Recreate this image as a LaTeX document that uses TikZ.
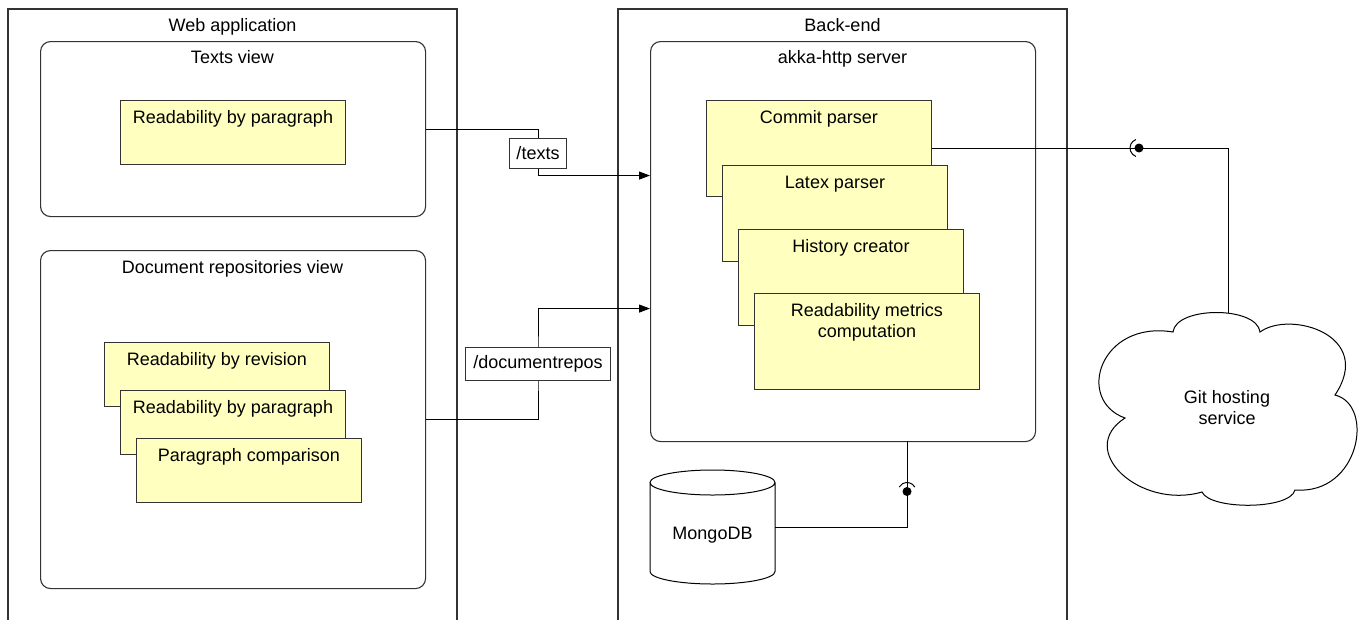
\documentclass[tikz,border=0pt]{standalone}
\usepackage{fontspec}
\setmainfont{Liberation Sans}
\usetikzlibrary{arrows.meta,calc}
\definecolor{note}{HTML}{FFFFC0}
\definecolor{ln}{HTML}{333333}
\begin{document}
\begin{tikzpicture}[x=1pt,y=-1pt, font=\fontsize{18}{21}\selectfont,
 container/.style={draw=ln, line width=1.1pt},
 view/.style={draw=ln, line width=1.1pt, rounded corners=10pt, anchor=north west, inner sep=0},
 ybox/.style={draw=ln, fill=note, line width=1pt, anchor=north west, inner sep=0, minimum width=225pt},
 ylabel/.style={anchor=north, yshift=-10.5pt, align=center, inner sep=0},
 title/.style={anchor=base, inner sep=0},
 tag/.style={draw=ln, fill=white, line width=1pt, inner sep=2pt},
 wire/.style={draw=black, line width=1pt},
 arr/.style={wire, -{Triangle[length=11pt,width=8pt]}},
]
\useasboundingbox (0,0) rectangle (1360,619);
\fill[white] (0,0) rectangle (1360,619);

% outer containers (open at the bottom)
\draw[container] (8,640) -- (8,9) -- (457,9) -- (457,640);
\draw[container] (618,640) -- (618,9) -- (1067,9) -- (1067,640);
\node[title] (wa) at (232.5,31.5) {Web application};
\node[title] (be) at (842.5,31.5) {Back-end};

% views
\node[view, minimum width=385pt, minimum height=175pt] (tv) at (40,41) {};
\node[title] (tvt) at (232.5,63.5) {Texts view};
\node[ybox, minimum height=64pt, label={[ylabel]north:Readability by paragraph}] (rp1) at (120,100) {};

\node[view, minimum width=385pt, minimum height=338pt] (drv) at (40,250) {};
\node[title] (drt) at (232.5,273.5) {Document repositories view};
\node[ybox, minimum height=64pt, label={[ylabel]north:Readability by revision}] (rrev) at (104,342) {};
\node[ybox, minimum height=64pt, label={[ylabel]north:Readability by paragraph}] (rpar) at (120,390) {};
\node[ybox, minimum height=64pt, label={[ylabel]north:Paragraph comparison}] (pcmp) at (136,438) {};

% akka server
\node[view, minimum width=385pt, minimum height=400pt] (akka) at (650,41) {};
\node[title] (akt) at (842.5,63.5) {akka-http server};
\node[ybox, minimum height=96pt, label={[ylabel]north:Commit parser}] (cp) at (706,100) {};
\node[ybox, minimum height=96pt, label={[ylabel]north:Latex parser}] (lp) at (722,165) {};
\node[ybox, minimum height=96pt, label={[ylabel]north:History creator}] (hc) at (738,229) {};
\node[ybox, minimum height=96pt, label={[ylabel]north:{Readability metrics\\computation}}] (rm) at (754,293) {};

% MongoDB cylinder
\node[minimum width=125pt, minimum height=114pt, inner sep=0] (mdb) at (712.5,527) {};
\draw[draw=black, line width=1pt, fill=white]
  (650,482.5) -- (650,571.5)
  arc[start angle=180, end angle=360, x radius=62.5pt, y radius=12.5pt]
  -- (775,482.5)
  arc[start angle=0, end angle=180, x radius=62.5pt, y radius=12.5pt]
  arc[start angle=180, end angle=360, x radius=62.5pt, y radius=12.5pt];
\node[inner sep=0] (mdbt) at (712.5,535) {MongoDB};

% cloud
\draw[draw=black, line width=1pt, fill=white]
  (1173,332) .. controls (1176,306) and (1257,306) .. (1260,332)
  .. controls (1290,310) and (1375,335) .. (1335,395)
  .. controls (1375,405) and (1360,495) .. (1295,490)
  .. controls (1290,510) and (1210,510) .. (1202,492)
  .. controls (1140,510) and (1075,450) .. (1125,418)
  .. controls (1075,400) and (1100,320) .. (1173,332) -- cycle;
\node[align=center, inner sep=0] (git) at (1227,408) {Git hosting\\service};
\coordinate (gtop) at (1228,313);

% connectors
\coordinate (tpos) at (538,153);
\draw[arr] (tv.east) -| (tpos) |- ([yshift=66pt]akka.west);
\node[tag, minimum width=57pt, minimum height=30pt] (tl) at (tpos) {/texts};

\coordinate (dpos) at (538,363.5);
\draw[arr] (drv.east) -| (dpos) |- ([yshift=-67pt]akka.west);
\node[tag, minimum width=145pt, minimum height=33pt] (dl) at (dpos) {/documentrepos};

\draw[wire] (cp.east) -| (gtop);
\coordinate (s1) at (1139,148);
\fill (s1) circle[radius=4.5pt];
\draw[wire] ([shift={(110:9pt)}]s1) arc[start angle=110, end angle=250, radius=9pt];

\coordinate (abot) at (907,441);
\draw[wire] (mdb.east) -| (abot);
\coordinate (s2) at (907,491.5);
\fill (s2) circle[radius=4.5pt];
\draw[wire] ([shift={(30:9pt)}]s2) arc[start angle=30, end angle=150, radius=9pt];
\end{tikzpicture}
\end{document}
